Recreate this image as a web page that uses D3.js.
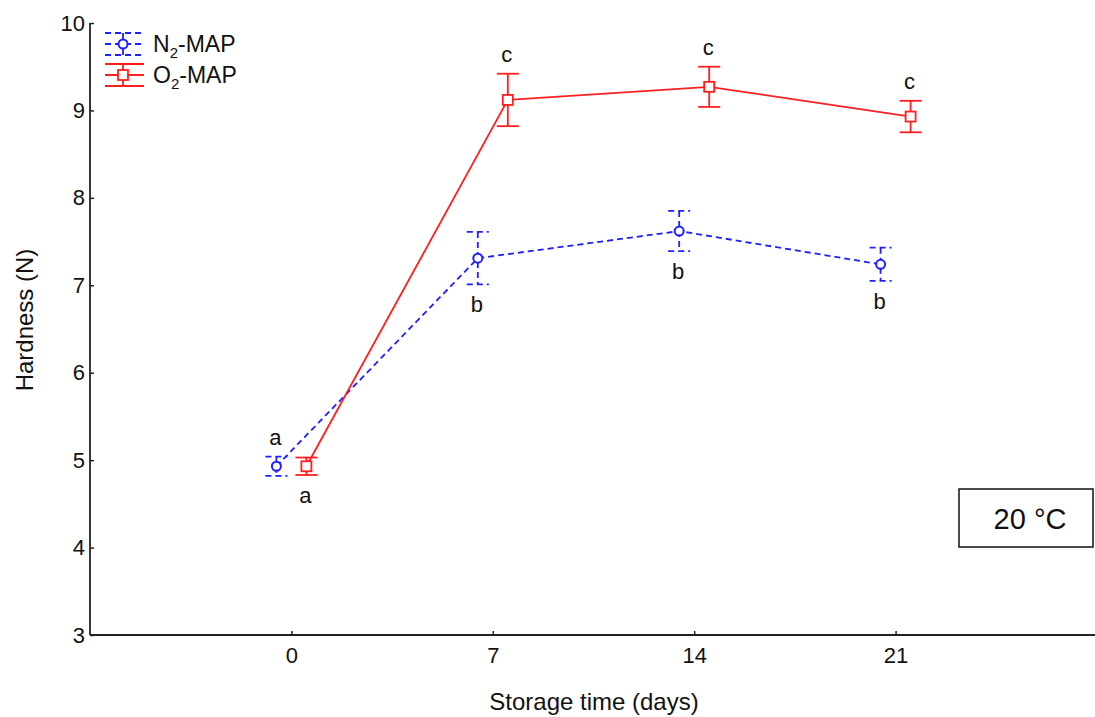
<!DOCTYPE html>
<html><head><meta charset="utf-8">
<script src="https://cdn.jsdelivr.net/npm/d3@7"></script>
<style>body{margin:0;background:#fff;}svg{display:block;font-family:"Liberation Sans",Arial,sans-serif;}</style>
</head><body><svg id="c" width="1095" height="717"></svg>
<script>
const days = [0, 7, 14, 21];
const yTicks = [3, 4, 5, 6, 7, 8, 9, 10];
const n2Mean = [4.93, 7.31, 7.62, 7.24];
const n2Err = [0.11, 0.30, 0.23, 0.19];
const n2Letters = ["a", "b", "b", "b"];
const o2Mean = [4.93, 9.12, 9.27, 8.93];
const o2Err = [0.10, 0.30, 0.23, 0.18];
const o2Letters = ["a", "c", "c", "c"];

const svg = d3.select("#c");
const L = 90, R = 1095, T = 23, B = 635;
const x = d3.scaleLinear().domain([-1, 4]).range([L, R + 2]);
const y = d3.scaleLinear().domain([3, 10]).range([B, T]);
const off = 15;
const FONT = "Liberation Sans, Arial, sans-serif";

// axes
const yAxis = d3.axisLeft(y).tickValues(yTicks).tickSize(-4).tickPadding(5).tickFormat(d3.format("d"));
const gy = svg.append("g").attr("transform", `translate(${L},0)`).call(yAxis);
gy.select(".domain").attr("stroke", "#222").attr("stroke-width", 1.8).attr("d", `M0,${B}V${T}`);
gy.selectAll(".tick line").attr("stroke", "#222").attr("stroke-width", 1.5);
gy.selectAll("text").attr("font-size", 22).attr("fill", "#111").attr("font-family", FONT);

const xAxis = d3.axisBottom(x).tickValues([0, 1, 2, 3]).tickSize(-4).tickPadding(12).tickFormat((d, i) => days[i]);
const gx = svg.append("g").attr("transform", `translate(0,${B})`).call(xAxis);
gx.select(".domain").attr("stroke", "#222").attr("stroke-width", 1.8).attr("d", `M${L},0H${R}`);
gx.selectAll(".tick line").attr("stroke", "#222").attr("stroke-width", 1.5);
gx.selectAll("text").attr("font-size", 22).attr("fill", "#111").attr("font-family", FONT);

svg.append("text").attr("x", 594).attr("y", 710).attr("text-anchor", "middle").attr("font-size", 24).attr("fill", "#111").text("Storage time (days)");
svg.append("text").attr("transform", "translate(33,320) rotate(-90)").attr("text-anchor", "middle").attr("font-size", 24).attr("fill", "#111").text("Hardness (N)");

function series(mean, err, letters, dx, color, dash, shape, letterAbove) {
  const g = svg.append("g");
  const line = d3.line().x((d, i) => x(i) + dx).y(d => y(d));
  g.append("path").datum(mean).attr("d", line).attr("fill", "none").attr("stroke", color).attr("stroke-width", 1.8).attr("stroke-dasharray", dash);
  mean.forEach((m, i) => {
    const cx = x(i) + dx;
    g.append("line").attr("x1", cx).attr("x2", cx).attr("y1", y(m + err[i])).attr("y2", y(m - err[i])).attr("stroke", color).attr("stroke-width", 1.8).attr("stroke-dasharray", dash);
    [m + err[i], m - err[i]].forEach(v => {
      g.append("line").attr("x1", cx - 11).attr("x2", cx + 11).attr("y1", y(v)).attr("y2", y(v)).attr("stroke", color).attr("stroke-width", 1.8).attr("stroke-dasharray", dash);
    });
    if (shape === "circle") {
      g.append("circle").attr("cx", cx).attr("cy", y(m)).attr("r", 4.5).attr("fill", "#fff").attr("stroke", color).attr("stroke-width", 2);
    } else {
      g.append("rect").attr("x", cx - 5).attr("y", y(m) - 5).attr("width", 10).attr("height", 10).attr("fill", "#fff").attr("stroke", color).attr("stroke-width", 1.8);
    }
    const up = letterAbove[i];
    const ty = up ? y(m + err[i]) - 12 : y(m - err[i]) + 28;
    g.append("text").attr("x", cx - 1).attr("y", ty).attr("text-anchor", "middle").attr("font-size", 22).attr("fill", "#111").text(letters[i]);
  });
}
series(n2Mean, n2Err, n2Letters, -off, "#1f1fff", "6,4", "circle", [true, false, false, false]);
series(o2Mean, o2Err, o2Letters, off, "#ff1f1f", null, "rect", [false, true, true, true]);

// legend
const lg = svg.append("g");
function legendItem(yy, color, dash, shape, sub, baseline) {
  [-11, 0, 11].forEach(d => {
    lg.append("line").attr("x1", 105).attr("x2", 144).attr("y1", yy + d).attr("y2", yy + d).attr("stroke", color).attr("stroke-width", 1.8).attr("stroke-dasharray", dash);
  });
  lg.append("line").attr("x1", 123).attr("x2", 123).attr("y1", yy - 11).attr("y2", yy + 11).attr("stroke", color).attr("stroke-width", 1.8);
  if (shape === "circle") lg.append("circle").attr("cx", 123).attr("cy", yy).attr("r", 4.5).attr("fill", "#fff").attr("stroke", color).attr("stroke-width", 2);
  else lg.append("rect").attr("x", 118).attr("y", yy - 5).attr("width", 10).attr("height", 10).attr("fill", "#fff").attr("stroke", color).attr("stroke-width", 1.8);
  const t = lg.append("text").attr("x", 153).attr("y", baseline).attr("font-size", 23).attr("fill", "#111");
  t.append("tspan").text(sub);
  t.append("tspan").attr("font-size", 15).attr("dy", 6).text("2");
  t.append("tspan").attr("dy", -6).text("-MAP");
}
legendItem(44, "#1f1fff", "6,4", "circle", "N", 52);
legendItem(75, "#ff1f1f", null, "rect", "O", 83);

// temperature box
svg.append("rect").attr("x", 959).attr("y", 489).attr("width", 134).attr("height", 58).attr("fill", "#fff").attr("stroke", "#111").attr("stroke-width", 1.5);
svg.append("text").attr("x", 1030).attr("y", 529).attr("text-anchor", "middle").attr("font-size", 29).attr("fill", "#111").text("20 °C");
</script></body></html>
